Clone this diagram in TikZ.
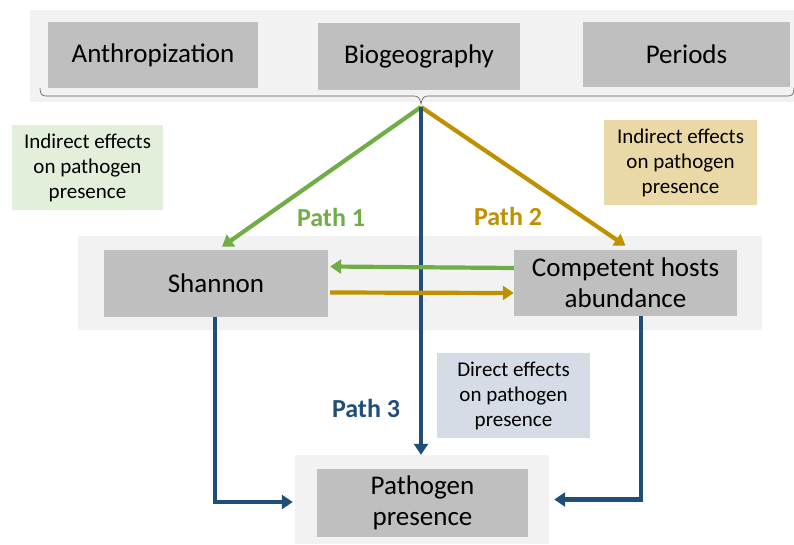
\documentclass[tikz,border=0pt]{standalone}
\usepackage{fontspec}
\setmainfont{Carlito}
\usetikzlibrary{arrows.meta}
\definecolor{pgreen}{HTML}{70AD47}
\definecolor{pgold}{HTML}{BF9000}
\definecolor{pblue}{HTML}{1F4E79}
\definecolor{panel}{HTML}{F2F2F2}
\definecolor{boxgray}{HTML}{BFBFBF}
\definecolor{lgreen}{HTML}{E2EFDA}
\definecolor{ltan}{HTML}{EAD8A6}
\definecolor{lblue}{HTML}{D6DCE5}
\tikzset{
  bigbox/.style={fill=boxgray, draw=none, inner sep=0pt, align=center,
    font=\fontsize{27}{31}\selectfont},
  bgpanel/.style={fill=panel, draw=none, inner sep=0pt},
  notebox/.style={draw=none, inner sep=0pt, align=center,
    font=\fontsize{21}{25}\selectfont, minimum width=152pt, minimum height=85pt},
  pathlab/.style={font=\fontsize{26}{30}\selectfont\bfseries},
  arr/.style={line width=4.2pt, -{Triangle[length=11pt,width=14pt]}},
}
\begin{document}
\begin{tikzpicture}[x=1pt,y=-1pt]
\useasboundingbox (0,0) rectangle (794,545);
% background panels
\node[bgpanel, minimum width=765pt, minimum height=92pt] (toppanel) at (412.5,56) {};
\node[bgpanel, minimum width=684pt, minimum height=94pt] (midpanel) at (420,283) {};
\node[bgpanel, minimum width=254pt, minimum height=89pt] (pbg) at (422,499.5) {};
% top boxes
\node[bigbox, minimum width=210pt, minimum height=66pt] (anth) at (153,55) {Anthropization};
\node[bigbox, minimum width=202pt, minimum height=67pt] (bio) at (419,56.5) {Biogeography};
\node[bigbox, minimum width=207pt, minimum height=65pt] (per) at (686.5,54.5) {Periods};
% brace
\draw[gray!70!black, line width=0.6pt]
  (40,88) .. controls (40,94) and (42,96) .. (46,96) -- (414,96)
  .. controls (418,96) and (420,98) .. (421,104)
  .. controls (422,98) and (424,96) .. (428,96) -- (788,96)
  .. controls (792,96) and (794,94) .. (794,88);
\coordinate (src) at (421,107);
% middle boxes
\node[bigbox, minimum width=224pt, minimum height=67pt] (shannon) at (216,283.5) {Shannon};
\node[bigbox, minimum width=223pt, minimum height=66pt] (comp) at (625.5,283) {Competent hosts\\abundance};
% bottom box
\node[bigbox, minimum width=211pt, minimum height=68pt] (path) at (422.5,503) {Pathogen\\presence};
% note boxes
\node[notebox, fill=lgreen, minimum width=151pt] (ngreen) at (87.5,167.5) {Indirect effects\\on pathogen\\presence};
\node[notebox, fill=ltan, minimum width=153pt] (ngold) at (680.5,162.5) {Indirect effects\\on pathogen\\presence};
\node[notebox, fill=lblue, minimum width=153pt] (nblue) at (513.5,395.5) {Direct effects\\on pathogen\\presence};
% path labels
\node[pathlab, text=pgreen] (p1) at (331,217) {Path 1};
\node[pathlab, text=pgold] (p2) at (508,216) {Path 2};
\node[pathlab, text=pblue] (p3) at (366,408) {Path 3};
% arrows
\draw[arr, pgreen] (src) -- ([shift={(6pt,3pt)}]shannon.north);
\draw[arr, pgold] (src) -- ([yshift=4pt]comp.north);
\draw[arr, pblue] (src) -- (src |- pbg.north);
\draw[arr, pgreen] ([yshift=15pt]comp.west) -- ([shift={(2pt,17pt)}]shannon.east);
\draw[arr, pgold] ([shift={(2pt,-9pt)}]shannon.east) -- ([yshift=-10pt]comp.west);
\draw[arr, pblue] ([xshift=-1pt]shannon.south) |- ([shift={(-2pt,-2.5pt)}]pbg.west);
\draw[arr, pblue] ([xshift=15.5pt]comp.south) |- ([xshift=5pt]pbg.east);
\end{tikzpicture}
\end{document}
